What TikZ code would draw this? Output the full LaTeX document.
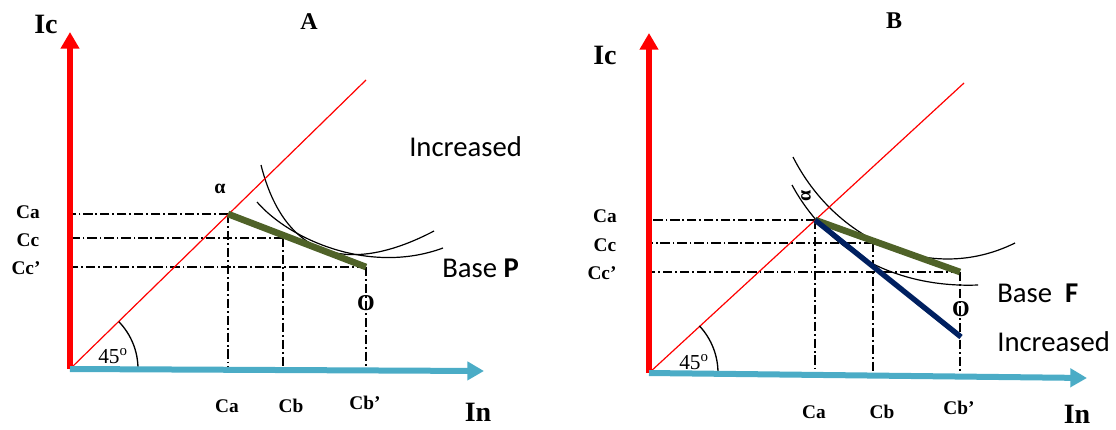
\documentclass[tikz,border=0pt]{standalone}
\usepackage{fontspec}
\setmainfont{Liberation Serif}
\newfontfamily\calibfont{Carlito}
\usetikzlibrary{arrows.meta,calc}
\definecolor{axisred}{HTML}{FF0000}
\definecolor{axisblue}{HTML}{4BACC6}
\definecolor{lineolive}{HTML}{4F6228}
\definecolor{linenavy}{HTML}{002060}

\tikzset{
  yaxis/.style={line width=4pt, axisred, -{Triangle[length=12.5pt,width=13.5pt]}},
  xaxis/.style={line width=4.5pt, axisblue, -{Triangle[length=12.5pt,width=13.5pt]}},
  diag/.style={axisred, line width=0.9pt},
  guide/.style={line width=1pt, dash pattern=on 7pt off 2.2pt on 1.3pt off 2.2pt},
  icurve/.style={line width=0.9pt},
  oliveline/.style={lineolive, line width=5pt},
  navyline/.style={linenavy, line width=4pt},
  axlabel/.style={inner sep=0pt, font=\bfseries\fontsize{21}{21}\selectfont},
  title/.style={inner sep=0pt, font=\bfseries\fontsize{18}{18}\selectfont},
  clabel/.style={inner sep=0pt, font=\bfseries\fontsize{14.5}{14.5}\selectfont},
  olabel/.style={inner sep=0pt, font=\bfseries\fontsize{17}{17}\selectfont},
  alabel/.style={inner sep=0pt, font=\fontsize{16}{16}\selectfont},
  sanslabel/.style={inner sep=0pt, anchor=west, font=\calibfont\fontsize{21.5}{21.5}\selectfont},
}

\begin{document}
\begin{tikzpicture}[x=0.75pt, y=-0.75pt]
  \useasboundingbox (0,0) rectangle (1116,429);

  % ---------------- Panel A ----------------
  \coordinate (oA) at (70,369);
  \coordinate (ytipA) at (70,32);
  \coordinate (xtipA) at (484,371);
  \coordinate (dA) at (366,80);
  \coordinate (pA) at (228,214);
  \coordinate (cA) at (283,238);
  \coordinate (qA) at (366,267);

  % guide lines
  \draw[guide] (pA) -- (pA -| oA);
  \draw[guide] (cA) -- (cA -| oA);
  \draw[guide] (qA) -- (qA -| oA);
  \draw[guide] (pA) -- (pA |- oA);
  \draw[guide] (cA) -- (cA |- oA);
  \draw[guide] (qA) -- (qA |- oA);

  % curves
  \draw[icurve] (261,165) .. controls (285,260) and (350,275) .. (434,231);
  \draw[icurve] (257,202) .. controls (290,240) and (370,275) .. (443,248);

  \draw[diag] (oA) -- (dA);
  \draw[oliveline] (pA) -- (qA);
  \draw[line width=1pt] (oA) ++(68,0) arc[start angle=0, end angle=44, radius=51pt];

  \draw[yaxis] (oA) -- (ytipA);
  \draw[xaxis] (oA) -- (xtipA);

  \node[axlabel] (icA) at (46,24) {Ic};
  \node[axlabel] (inA) at (478,412) {In};
  \node[title] (ttlA) at (309,22) {A};
  \node[clabel] (caLA) at (28,212) {Ca};
  \node[clabel] (ccLA) at (28,240) {Cc};
  \node[clabel] (cdLA) at (26,268) {Cc’};
  \node[clabel] (caBA) at (227,406) {Ca};
  \node[clabel] (cbBA) at (291,406) {Cb};
  \node[clabel] (cdBA) at (365,403) {Cb’};
  \node[inner sep=0pt, font=\bfseries\fontsize{15}{15}\selectfont] (alA) at (220,189) {α};
  \node[olabel] (oLA) at (366,303) {O};
  \node[alabel] (angA) at (113,356) {45\textsuperscript{o}};
  \node[sanslabel] (incA) at (409,147) {Increased};
  \node[sanslabel] (baseA) at (442,268) {Base \textbf{P}};

  % ---------------- Panel B ----------------
  \coordinate (oB) at (649,373);
  \coordinate (ytipB) at (649,33);
  \coordinate (xtipB) at (1087,378);
  \coordinate (dB) at (964,83);
  \coordinate (pB) at (815,220);
  \coordinate (cB) at (873,243);
  \coordinate (qB) at (960,272);
  \coordinate (rB) at (961,337);

  % guide lines
  \draw[guide] (pB) -- (pB -| oB);
  \draw[guide] (cB) -- (cB -| oB);
  \draw[guide] (qB) -- (qB -| oB);
  \draw[guide] (pB) -- (pB |- oB);
  \draw[guide] (cB) -- (cB |- oB);
  \draw[guide] (qB) -- (qB |- oB);

  % curves
  \draw[icurve] (793,157) .. controls (835,240) and (930,285) .. (1015,243);
  \draw[icurve] (792,185) .. controls (830,255) and (900,288) .. (978,285);

  \draw[diag] (oB) -- (dB);
  \draw[oliveline] (pB) -- (qB);
  \draw[navyline] (pB) -- (rB);
  \draw[line width=1pt] (oB) ++(69,0) arc[start angle=0, end angle=43, radius=51.75pt];

  \draw[yaxis] (oB) -- (ytipB);
  \draw[xaxis] (oB) -- (xtipB);

  \node[axlabel] (icB) at (605,55) {Ic};
  \node[axlabel] (inB) at (1077,414) {In};
  \node[title] (ttlB) at (894,21) {B};
  \node[clabel] (caLB) at (605,216) {Ca};
  \node[clabel] (ccLB) at (605,245) {Cc};
  \node[clabel] (cdLB) at (602,273) {Cc’};
  \node[clabel] (caBB) at (814,412) {Ca};
  \node[clabel] (cbBB) at (882,412) {Cb};
  \node[clabel] (cdBB) at (959,408) {Cb’};
  \node[inner sep=0pt, rotate=90, font=\bfseries\fontsize{15}{15}\selectfont] (alB) at (806,196) {α};
  \node[olabel] (oLB) at (961,309) {O};
  \node[alabel] (angB) at (694,362) {45\textsuperscript{o}};
  \node[sanslabel] (baseB) at (997,293) {Base\ \ \textbf{F}};
  \node[sanslabel] (incB) at (997,342) {Increased};
\end{tikzpicture}
\end{document}
